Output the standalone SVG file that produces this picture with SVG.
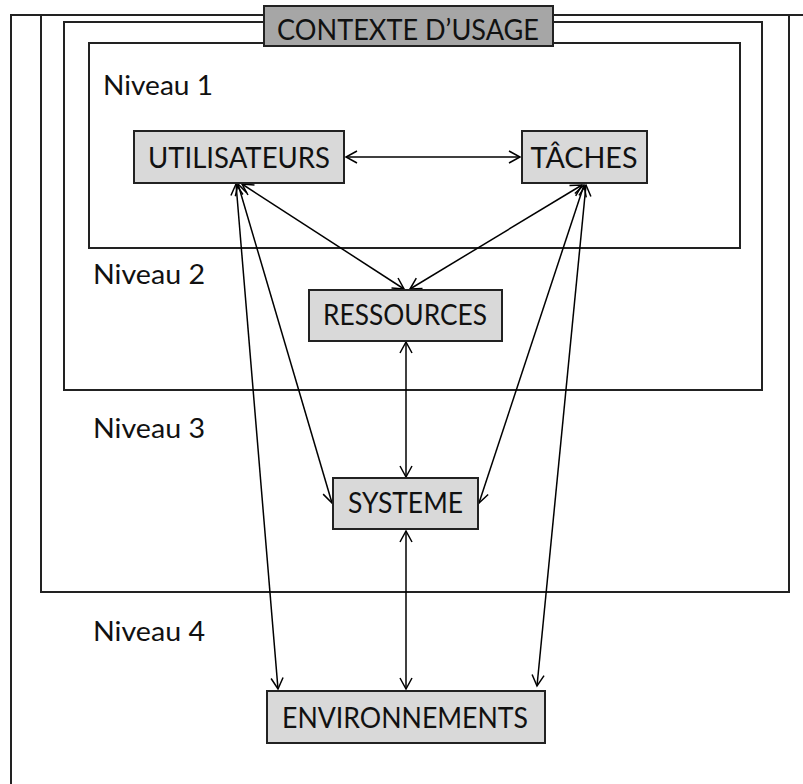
<svg xmlns="http://www.w3.org/2000/svg" width="803" height="784" viewBox="0 0 803 784">
<style>
.frame{fill:none;stroke:#222;stroke-width:2}
.node{fill:#d9d9d9;stroke:#222;stroke-width:2}
.title{fill:#a6a6a6;stroke:#222;stroke-width:2}
.lbl{font-family:Lato,"Open Sans","Liberation Sans",sans-serif;font-size:28px;fill:#111}
.lvl{font-family:Lato,"Open Sans","Liberation Sans",sans-serif;font-size:27px;fill:#111}
.conn line{stroke:#000;stroke-width:1.5;marker-start:url(#ah);marker-end:url(#ah)}
</style>
<defs>
<marker id="ah" markerUnits="userSpaceOnUse" markerWidth="16" markerHeight="16" viewBox="0 0 16 16" refX="14" refY="8" orient="auto-start-reverse">
<path d="M3,2 L14,8 L3,14" fill="none" stroke="#000" stroke-width="1.5"/>
</marker>
</defs>
<rect width="803" height="784" fill="#fff"/>
<g id="frames">
<path class="frame" d="M11,784 V15 H803"/>
<rect class="frame" x="41" y="15" width="748" height="577"/>
<rect class="frame" x="64" y="22" width="698" height="368"/>
<rect class="frame" x="89" y="43" width="651" height="205"/>
</g>
<g id="title">
<rect class="title" x="264" y="6" width="289" height="40"/>
<text class="lbl" x="408" y="40" text-anchor="middle" textLength="262" lengthAdjust="spacingAndGlyphs">CONTEXTE D’USAGE</text>
</g>
<g id="levels">
<text class="lvl" x="103" y="95" textLength="110" lengthAdjust="spacingAndGlyphs">Niveau 1</text>
<text class="lvl" x="93" y="284" textLength="112" lengthAdjust="spacingAndGlyphs">Niveau 2</text>
<text class="lvl" x="93" y="438" textLength="112" lengthAdjust="spacingAndGlyphs">Niveau 3</text>
<text class="lvl" x="93" y="641" textLength="112" lengthAdjust="spacingAndGlyphs">Niveau 4</text>
</g>
<g id="connectors" class="conn">
<line x1="346" y1="157" x2="520" y2="157"/>
<line x1="242" y1="184" x2="404" y2="289"/>
<line x1="582" y1="185" x2="410" y2="289"/>
<line x1="406" y1="342" x2="406" y2="477"/>
<line x1="406" y1="531" x2="406" y2="689"/>
<line x1="238" y1="184" x2="332" y2="503"/>
<line x1="584" y1="185" x2="479" y2="503"/>
<line x1="236" y1="184" x2="278" y2="689"/>
<line x1="586" y1="185" x2="537" y2="686"/>
</g>
<g id="utilisateurs">
<rect class="node" x="134" y="131" width="210" height="52"/>
<text class="lbl" x="239" y="168" text-anchor="middle" textLength="182" lengthAdjust="spacingAndGlyphs">UTILISATEURS</text>
</g>
<g id="taches">
<rect class="node" x="522" y="131" width="125" height="52"/>
<text class="lbl" x="584" y="168" text-anchor="middle" textLength="107" lengthAdjust="spacingAndGlyphs">TÂCHES</text>
</g>
<g id="ressources">
<rect class="node" x="309" y="290" width="193" height="51"/>
<text class="lbl" x="405" y="325" text-anchor="middle" textLength="164" lengthAdjust="spacingAndGlyphs">RESSOURCES</text>
</g>
<g id="systeme">
<rect class="node" x="333" y="478" width="145" height="51"/>
<text class="lbl" x="405.5" y="513" text-anchor="middle" textLength="115" lengthAdjust="spacingAndGlyphs">SYSTEME</text>
</g>
<g id="environnements">
<rect class="node" x="267" y="691" width="278" height="52"/>
<text class="lbl" x="405" y="728" text-anchor="middle" textLength="246" lengthAdjust="spacingAndGlyphs">ENVIRONNEMENTS</text>
</g>
</svg>
